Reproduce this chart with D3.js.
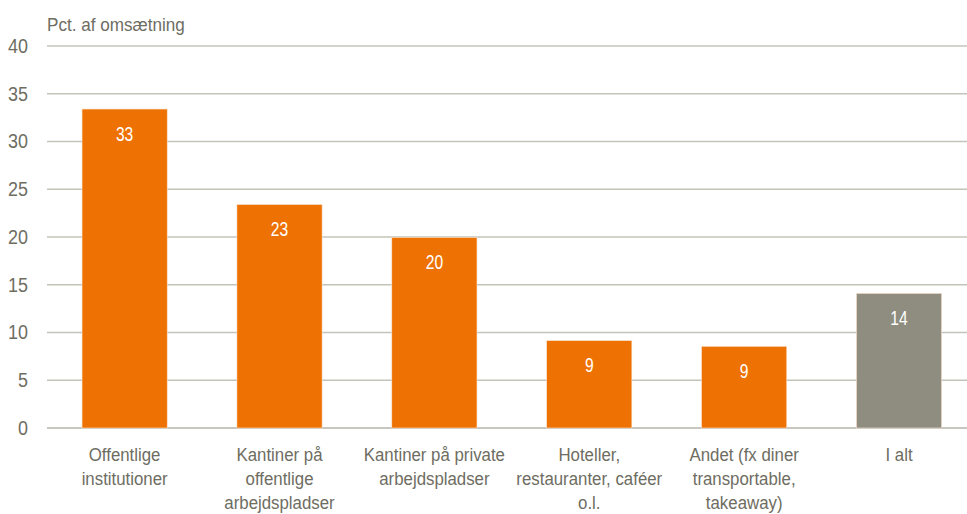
<!DOCTYPE html>
<html>
<head>
<meta charset="utf-8">
<script src="https://cdn.jsdelivr.net/npm/d3@7"></script>
<style>
  html, body { margin: 0; padding: 0; background: #fff; overflow: hidden; }
  svg { display: block; }
  svg text { font-family: "Liberation Sans", Arial, sans-serif; }
</style>
</head>
<body>
<div id="chart"></div>
<script>
const categories = [
  "Offentlige\ninstitutioner",
  "Kantiner på\noffentlige\narbejdspladser",
  "Kantiner på private\narbejdspladser",
  "Hoteller,\nrestauranter, caféer\no.l.",
  "Andet (fx diner\ntransportable,\ntakeaway)",
  "I alt"
];
const values = [33.4, 23.4, 19.95, 9.15, 8.55, 14.1];
const valueLabels = ["33", "23", "20", "9", "9", "14"];
const yTicks = [0, 5, 10, 15, 20, 25, 30, 35, 40];
const yTitle = "Pct. af omsætning";

const width = 967, height = 514;
const margin = { top: 46, right: 0, bottom: 86, left: 47 };
const innerWidth = width - margin.left - margin.right;
const innerHeight = height - margin.top - margin.bottom;

const textColor = "#6e6d62";

// the original uses a narrow font: squeeze Liberation Sans horizontally
const condense = (sel, k) => sel.each(function () {
  const w = this.getComputedTextLength();
  d3.select(this)
    .attr("textLength", w * k)
    .attr("lengthAdjust", "spacingAndGlyphs");
});

const data = categories.map((c, i) => ({ cat: c, value: values[i], label: valueLabels[i], total: i === categories.length - 1 }));

const svg = d3.select("#chart")
  .append("svg")
    .attr("width", width)
    .attr("height", height);

const innerChart = svg
  .append("g")
    .attr("transform", `translate(${margin.left}, ${margin.top})`);

const xScale = d3.scaleBand()
  .domain(categories)
  .range([0, innerWidth])
  .paddingInner(0.45)
  .paddingOuter(0.195)
  .align(0.58);

const yScale = d3.scaleLinear()
  .domain([0, 40])
  .range([innerHeight, 0]);

// gridlines
innerChart.selectAll(".grid")
  .data(yTicks)
  .join("line")
    .attr("class", "grid")
    .attr("x1", 0)
    .attr("x2", innerWidth)
    .attr("y1", d => yScale(d))
    .attr("y2", d => yScale(d))
    .attr("stroke", d => d === 0 ? "#b5b4aa" : "#c4c3ba")
    .attr("stroke-width", 1.5);

// bars
innerChart.selectAll(".bar")
  .data(data)
  .join("rect")
    .attr("class", "bar")
    .attr("x", d => xScale(d.cat))
    .attr("y", d => yScale(d.value))
    .attr("width", xScale.bandwidth())
    .attr("height", d => yScale(0) - yScale(d.value))
    .attr("fill", d => d.total ? "#8f8d7f" : "#ee7203")
    .attr("stroke", "#fbe3cf")
    .attr("stroke-width", 0.6);

// value labels
innerChart.selectAll(".val")
  .data(data)
  .join("text")
    .attr("class", "val")
    .attr("x", d => xScale(d.cat) + xScale.bandwidth() / 2)
    .attr("y", d => yScale(d.value) + 31.5)
    .attr("text-anchor", "middle")
    .attr("fill", "#ffffff")
    .attr("font-size", 20)
    .text(d => d.label)
    .call(condense, 0.78);

// y axis
const leftAxis = d3.axisLeft(yScale)
  .tickValues(yTicks)
  .tickSize(0)
  .tickPadding(19);

innerChart.append("g")
    .call(leftAxis)
    .call(g => g.select(".domain").remove())
    .call(g => g.attr("font-family", null))
    .call(g => g.selectAll("text")
      .attr("fill", textColor)
      .attr("font-size", 19.5)
      .call(condense, 0.92));

// x axis, labels wrapped on \n
const bottomAxis = d3.axisBottom(xScale)
  .tickSize(0);

innerChart.append("g")
    .attr("transform", `translate(0, ${innerHeight})`)
    .call(bottomAxis)
    .call(g => g.select(".domain").remove())
    .call(g => g.attr("font-family", null))
    .call(g => g.selectAll(".tick text")
      .attr("fill", textColor)
      .attr("font-size", 18.7)
      .attr("dy", null)
      .text(null)
      .selectAll("tspan")
      .data(d => d.split("\n"))
      .join("tspan")
        .attr("x", 0)
        .attr("y", (d, i) => 33 + i * 24)
        .text(d => d)
        .call(condense, 0.9));

// title
svg.append("text")
  .attr("x", margin.left)
  .attr("y", 31)
  .attr("fill", textColor)
  .attr("font-size", 18.6)
  .text(yTitle)
  .call(condense, 0.92);
</script>
</body>
</html>
